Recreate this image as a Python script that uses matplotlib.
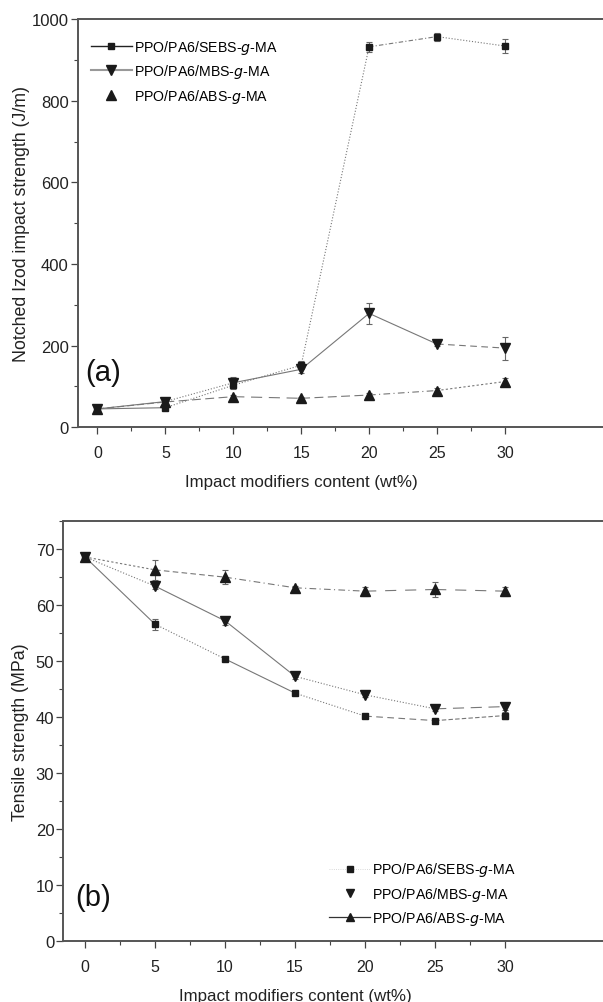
import matplotlib.pyplot as plt
from matplotlib.lines import Line2D
from matplotlib.ticker import MultipleLocator, FixedLocator

plt.rcParams['font.family'] = ['Liberation Sans', 'DejaVu Sans']

content = [0, 5, 10, 15, 20, 25, 30]
names = ['PPO/PA6/SEBS-$g$-MA', 'PPO/PA6/MBS-$g$-MA', 'PPO/PA6/ABS-$g$-MA']

# (a) notched Izod impact strength, J/m
impact_sebs = [45, 48, 103, 152, 932, 957, 934]
impact_mbs = [45, 63, 109, 142, 279, 204, 194]
impact_abs = [45, 62, 75, 71, 79, 90, 112]
impact_sebs_err = [4, 4, 6, 10, 12, 10, 16]
impact_mbs_err = [4, 4, 14, 8, 26, 5, 28]
impact_abs_err = [3, 3, 5, 4, 4, 6, 8]

# (b) tensile strength, MPa
tensile_sebs = [68.5, 56.5, 50.3, 44.2, 40.1, 39.3, 40.2]
tensile_mbs = [68.5, 63.3, 57.1, 47.2, 43.9, 41.4, 41.8]
tensile_abs = [68.5, 66.2, 64.9, 63.0, 62.4, 62.7, 62.4]
tensile_sebs_err = [0.4, 1.0, 0.4, 0.3, 0.3, 0.3, 0.6]
tensile_mbs_err = [0.4, 0.5, 0.7, 0.5, 0.4, 0.4, 0.6]
tensile_abs_err = [0.4, 1.8, 1.3, 0.4, 0.8, 1.3, 0.8]

mark = ['s', 'v', '^']
msize = [5, 6.5, 6.5]
# scanned figure: line style changes from segment to segment
styles_a = [['-', ':', ':', ':', (0, (4, 2, 1, 2)), ':'],
            ['-', ':', '-', '-', '-', (0, (6, 4))],
            [(0, (6, 3)), (0, (8, 4)), (0, (10, 6)), (0, (8, 4)), (0, (6, 3, 1, 3)), (0, (2, 2))]]
styles_b = [['-', ':', '-', ':', (0, (6, 4)), (0, (4, 2))],
            [':', '-', '-', ':', ':', (0, (10, 6))],
            [(0, (2, 2)), (0, (5, 3)), (0, (6, 3, 1, 3)), (0, (6, 3, 1, 3)), (0, (10, 8)), (0, (10, 8))]]

fig = plt.figure(figsize=(6.03, 10.03), dpi=100)
ax1 = fig.add_axes([0.129, 0.573, 0.742, 0.407])
ax2 = fig.add_axes([0.105, 0.061, 0.770, 0.419])

def draw(ax, series, errs, styles):
    for k, (y, e) in enumerate(zip(series, errs)):
        for i in range(len(content) - 1):
            ax.plot(content[i:i + 2], y[i:i + 2], color='#777777', lw=0.8,
                    linestyle=styles[k][i], zorder=2)
        ax.errorbar(content, y, yerr=e, fmt=mark[k], ms=msize[k], color='#1a1a1a',
                    ecolor='#666666', elinewidth=0.8, capsize=2.5, capthick=0.8, zorder=3)

def style_axes(ax):
    ax.spines['left'].set_color('#555555')
    ax.spines['left'].set_linewidth(1.4)
    for s in ['right', 'top', 'bottom']:
        ax.spines[s].set_visible(False)
    # top and bottom frame lines run on to the page edge in the original
    for yy in [0, 1]:
        ax.plot([0, 1.25], [yy, yy], transform=ax.transAxes, color='#555555', lw=1.4,
                clip_on=False, solid_capstyle='butt')
    ax.xaxis.set_major_locator(FixedLocator(content))
    ax.xaxis.set_minor_locator(FixedLocator([2.5, 7.5, 12.5, 17.5, 22.5, 27.5]))
    ax.tick_params(axis='both', which='major', length=5, width=0.9, color='#444444',
                   labelcolor='#222222', direction='out')
    ax.tick_params(axis='x', which='major', pad=8, labelsize=11.5)
    ax.tick_params(axis='y', which='major', pad=1.5, labelsize=12)
    ax.tick_params(axis='both', which='minor', length=3, width=0.8, color='#444444',
                   direction='out')
    ax.tick_params(top=False, right=False, which='both')

draw(ax1, [impact_sebs, impact_mbs, impact_abs],
     [impact_sebs_err, impact_mbs_err, impact_abs_err], styles_a)
ax1.set_xlim(-1.45, 31.5)
ax1.set_ylim(0, 1000)
ax1.yaxis.set_major_locator(MultipleLocator(200))
ax1.yaxis.set_minor_locator(MultipleLocator(100))
style_axes(ax1)
ax1.set_xlabel('Impact modifiers content (wt%)', fontsize=12.2, color='#222222', labelpad=10)
ax1.set_ylabel('Notched Izod impact strength (J/m)', fontsize=12.8, color='#222222', labelpad=1)
ax1.text(0.017, 0.135, '(a)', transform=ax1.transAxes, fontsize=21, va='center', color='#111111')

h1 = [Line2D([], [], color='#222222', lw=1.0, marker='s', ms=5, mfc='#1a1a1a', mec='#1a1a1a'),
      Line2D([], [], color='#999999', lw=1.5, marker='v', ms=6.5, mfc='#1a1a1a', mec='#1a1a1a'),
      Line2D([], [], color='none', marker='^', ms=6.5, mfc='#1a1a1a', mec='#1a1a1a')]
ax1.legend(h1, names, loc='upper left', bbox_to_anchor=(0.0, 0.985), frameon=False,
           fontsize=10.2, handlelength=2.9, handletextpad=0.15, labelspacing=0.45)

draw(ax2, [tensile_sebs, tensile_mbs, tensile_abs],
     [tensile_sebs_err, tensile_mbs_err, tensile_abs_err], styles_b)
ax2.set_xlim(-1.55, 31.6)
ax2.set_ylim(0, 75)
ax2.yaxis.set_major_locator(MultipleLocator(10))
ax2.yaxis.set_minor_locator(MultipleLocator(5))
style_axes(ax2)
ax2.set_xlabel('Impact modifiers content (wt%)', fontsize=12.2, color='#222222', labelpad=10)
ax2.set_ylabel('Tensile strength (MPa)', fontsize=12.8, color='#222222', labelpad=5)
ax2.text(0.026, 0.105, '(b)', transform=ax2.transAxes, fontsize=21, va='center', color='#111111')

h2 = [Line2D([], [], color='#cccccc', lw=0.6, linestyle=':', marker='s', ms=4, mfc='#1a1a1a', mec='#1a1a1a'),
      Line2D([], [], color='none', marker='v', ms=6, mfc='#1a1a1a', mec='#1a1a1a'),
      Line2D([], [], color='#333333', lw=0.9, marker='^', ms=6, mfc='#1a1a1a', mec='#1a1a1a')]
ax2.legend(h2, names, loc='lower left', bbox_to_anchor=(0.545, 0.002), frameon=False,
           fontsize=10.2, handlelength=2.9, handletextpad=0.15, labelspacing=0.45)

fig.savefig('out.png', dpi=100)
